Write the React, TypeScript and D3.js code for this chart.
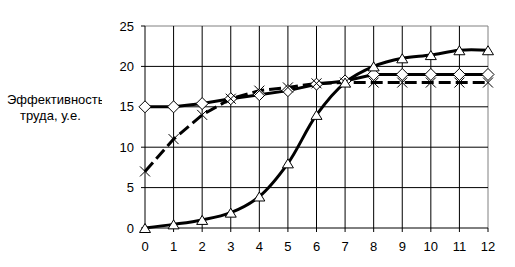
import React from "react";
import * as d3 from "d3";

const xValues = [0, 1, 2, 3, 4, 5, 6, 7, 8, 9, 10, 11, 12];
const diamondSeries = [15, 15, 15.4, 16, 16.5, 17, 17.8, 18.2, 19, 19, 19, 19, 19];
const crossSeries = [7, 11, 14, 16, 17, 17.4, 17.9, 18, 18, 18, 18, 18, 18];
const triangleSeries = [0, 0.45, 1, 1.9, 3.9, 8, 14, 18, 20, 21, 21.4, 22, 22];
const yTicks = [0, 5, 10, 15, 20, 25];
const yLabelLines = ["Эффективность", "труда, у.е."];

const W = 515;
const H = 267;
const left = 145;
const right = 488;
const top = 26;
const bottom = 228;

export default function App() {
  const x = d3.scaleLinear().domain([0, 12]).range([left, right]);
  const y = d3.scaleLinear().domain([0, 25]).range([bottom, top]);
  const font = "'Liberation Sans', Arial, sans-serif";

  const straight = d3.line<number>().x((_, i) => x(xValues[i])).y((d) => y(d));
  const smooth = d3
    .line<number>()
    .x((_, i) => x(xValues[i]))
    .y((d) => y(d))
    .curve(d3.curveCatmullRom.alpha(0.5));

  const diamond = (cx: number, cy: number, r: number) =>
    `M${cx},${cy - r}L${cx + r},${cy}L${cx},${cy + r}L${cx - r},${cy}Z`;
  const triangle = (cx: number, cy: number, r: number) =>
    `M${cx},${cy - 4.5}L${cx + r},${cy + 4.5}L${cx - r},${cy + 4.5}Z`;
  const cross = (cx: number, cy: number, r: number) =>
    `M${cx - r},${cy - r}L${cx + r},${cy + r}M${cx - r},${cy + r}L${cx + r},${cy - r}`;

  return (
    <svg
      width={W}
      height={H}
      style={{ position: "absolute", left: 0, top: 0, background: "#fff" }}
      fontFamily={font}
    >
      <defs>
        <clipPath id="lblclip">
          <rect x={0} y={0} width={102} height={H} />
        </clipPath>
      </defs>
      <rect x={0} y={0} width={W} height={H} fill="#fff" />
      <line x1={left} x2={right} y1={top} y2={top} stroke="#808080" />
      <line x1={right} x2={right} y1={top} y2={bottom} stroke="#808080" />
      {xValues.slice(1, -1).map((v) => (
        <line key={"vx" + v} x1={x(v)} x2={x(v)} y1={top} y2={bottom} stroke="#000" />
      ))}
      {yTicks.slice(1, -1).map((v) => (
        <line key={"hy" + v} x1={left} x2={right} y1={y(v)} y2={y(v)} stroke="#000" />
      ))}
      <line x1={left} x2={left} y1={top} y2={bottom} stroke="#000" />
      <line x1={left} x2={right} y1={bottom} y2={bottom} stroke="#000" />
      {yTicks.map((v) => (
        <g key={"yt" + v}>
          <line x1={left - 4} x2={left} y1={y(v)} y2={y(v)} stroke="#000" />
          <text x={134} y={y(v) + 4.5} textAnchor="end" fontSize={13} fill="#000">
            {v}
          </text>
        </g>
      ))}
      {xValues.map((v) => (
        <g key={"xt" + v}>
          <line x1={x(v)} x2={x(v)} y1={bottom} y2={bottom + 4} stroke="#000" />
          <text x={x(v)} y={251} textAnchor="middle" fontSize={13} fill="#000">
            {v}
          </text>
        </g>
      ))}
      <g clipPath="url(#lblclip)">
        <text x={7} y={104} fontSize={13} fill="#000">
          {yLabelLines[0]}
        </text>
        <text x={20} y={120} fontSize={13} fill="#000">
          {yLabelLines[1]}
        </text>
      </g>
      <path d={straight(diamondSeries) || ""} fill="none" stroke="#000" strokeWidth={3} />
      <path
        d={straight(crossSeries) || ""}
        fill="none"
        stroke="#000"
        strokeWidth={3}
        strokeDasharray="12,5"
      />
      <path d={smooth(triangleSeries) || ""} fill="none" stroke="#000" strokeWidth={3} />
      {diamondSeries.map((v, i) => (
        <path key={"d" + i} d={diamond(x(xValues[i]), y(v), 6)} fill="#fff" stroke="#000" strokeWidth={1} />
      ))}
      {crossSeries.map((v, i) => (
        <path key={"c" + i} d={cross(x(xValues[i]), y(v), 5)} fill="none" stroke="#000" strokeWidth={1} />
      ))}
      {triangleSeries.map((v, i) => (
        <path key={"t" + i} d={triangle(x(xValues[i]), y(v), 5.5)} fill="#fff" stroke="#000" strokeWidth={1} />
      ))}
    </svg>
  );
}
